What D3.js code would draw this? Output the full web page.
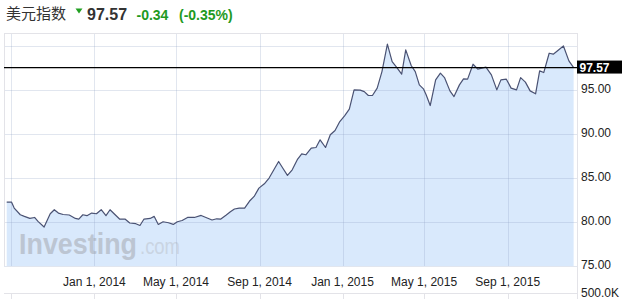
<!DOCTYPE html>
<html>
<head>
<meta charset="utf-8">
<script src="https://cdn.jsdelivr.net/npm/d3@7"></script>
<style>
body{margin:0;background:#fff;}
</style>
</head>
<body>
<script>
//DATA
var dates = ["2013-08-25","2013-09-01","2013-09-05","2013-09-14","2013-09-20","2013-09-28","2013-10-05","2013-10-10","2013-10-19","2013-10-28",
 "2013-11-03","2013-11-09","2013-11-16","2013-11-25","2013-12-04","2013-12-09","2013-12-15","2013-12-21","2013-12-28","2014-01-04",
 "2014-01-11","2014-01-18","2014-01-24","2014-01-30","2014-02-07","2014-02-15","2014-02-22","2014-03-03","2014-03-09","2014-03-15",
 "2014-03-24","2014-03-30","2014-04-05","2014-04-12","2014-04-20","2014-04-27","2014-05-03","2014-05-10","2014-05-18","2014-05-28",
 "2014-06-07","2014-06-15","2014-06-23","2014-06-30","2014-07-06","2014-07-14","2014-07-20","2014-07-26","2014-08-02","2014-08-10",
 "2014-08-17","2014-08-24","2014-08-31","2014-09-08","2014-09-15","2014-09-22","2014-09-29","2014-10-05","2014-10-12","2014-10-19",
 "2014-10-27","2014-11-02","2014-11-08","2014-11-16","2014-11-23","2014-11-29","2014-12-07","2014-12-14","2014-12-21","2014-12-28",
 "2015-01-04","2015-01-11","2015-01-18","2015-01-27","2015-02-02","2015-02-08","2015-02-14","2015-02-21","2015-02-28","2015-03-08",
 "2015-03-15","2015-03-22","2015-03-29","2015-04-04","2015-04-12","2015-04-18","2015-04-24","2015-04-30","2015-05-04","2015-05-10",
 "2015-05-18","2015-05-25","2015-05-31","2015-06-08","2015-06-14","2015-06-22","2015-06-28","2015-07-04","2015-07-12","2015-07-19",
 "2015-07-31","2015-08-08","2015-08-16","2015-08-22","2015-08-30","2015-09-06","2015-09-14","2015-09-20","2015-09-27","2015-10-04",
 "2015-10-12","2015-10-18","2015-10-24","2015-11-01","2015-11-07","2015-11-22","2015-11-30","2015-12-07"];
var values = [82.27,82.27,81.59,80.83,80.64,80.41,80.52,80.07,79.43,80.94,
 81.40,81.02,80.86,80.80,80.41,80.34,80.83,80.72,81.02,80.94,
 81.40,80.72,81.40,80.94,80.34,80.34,79.89,79.81,79.61,80.34,
 80.41,80.64,79.73,80.03,79.92,79.73,80.03,80.18,80.52,80.52,
 80.75,80.49,80.23,80.37,80.34,80.80,81.17,81.48,81.59,81.59,
 82.36,82.91,83.86,84.35,85.00,85.94,86.89,86.14,85.30,85.94,
 87.16,87.76,87.65,88.41,88.48,89.35,88.48,89.92,90.41,91.43,
 92.08,92.84,95.03,95.00,94.84,94.39,94.39,95.23,97.11,100.23,
 98.25,97.57,96.82,99.58,97.80,97.11,95.60,95.15,94.47,93.25,
 96.17,96.93,96.43,94.92,94.27,95.60,96.28,96.25,97.95,97.39,
 97.61,96.74,95.03,96.17,96.25,95.23,95.03,96.43,95.91,94.92,
 94.58,97.19,97.00,99.20,99.09,100.03,98.33,97.57];
var lastPrice = 97.57;
var yTicks = [75, 80, 85, 90, 95, 100];
var yLabels = ["75.00", "80.00", "85.00", "90.00", "95.00", ""];
var xTicks = ["2013-09-01","2014-01-01","2014-05-01","2014-09-01","2015-01-01","2015-05-01","2015-09-01"];
var xLabels = ["", "Jan 1, 2014", "May 1, 2014", "Sep 1, 2014", "Jan 1, 2015", "May 1, 2015", "Sep 1, 2015"];
var titleText = "美元指数";
var changeText = "-0.34";
var pctText = "(-0.35%)";

var parse = d3.timeParse("%Y-%m-%d");
var data = dates.map(function(d,i){ return {date: parse(d), value: values[i]}; });

//SVG STUFF
var width = 622, height = 299;
var pLeft = 4, pRight = 577, pTop = 33, pBottom = 266;
var font = "'Liberation Sans', Arial, sans-serif";

var svg = d3.select("body").append("svg")
   .attr("width", width).attr("height", height);

var x = d3.scaleTime()
   .domain([parse("2013-08-21"), parse("2015-12-09")])
   .range([pLeft, pRight - 2]);
var y = d3.scaleLinear()
   .domain([75, 101.5])
   .range([pBottom, pTop]);

//AREA + LINE
var area = d3.area()
   .x(function(d){ return x(d.date); })
   .y0(pBottom)
   .y1(function(d){ return y(d.value); });
var line = d3.line()
   .x(function(d){ return x(d.date); })
   .y(function(d){ return y(d.value); });

svg.append("path")
   .datum(data)
   .attr("d", area)
   .attr("fill", "#d9e9fc");

//watermark
svg.append("text")
   .text("Investing")
   .attr("x", 19).attr("y", 254)
   .attr("font-family", font)
   .attr("font-size", "30px")
   .attr("font-weight", "bold")
   .attr("fill", "#bcc5d2")
   .attr("textLength", 118)
   .attr("lengthAdjust", "spacingAndGlyphs");
svg.append("text")
   .text(".com")
   .attr("x", 140).attr("y", 254)
   .attr("font-family", font)
   .attr("font-size", "22px")
   .attr("fill", "#c9d4e2")
   .attr("textLength", 40)
   .attr("lengthAdjust", "spacingAndGlyphs");

//GRIDLINES
svg.selectAll("line.hgrid").data(yTicks).enter().append("line")
   .attr("class", "hgrid")
   .attr("x1", pLeft).attr("x2", pRight)
   .attr("y1", function(d){ return Math.round(y(d)) + 0.5; })
   .attr("y2", function(d){ return Math.round(y(d)) + 0.5; })
   .attr("stroke", "rgba(140,160,195,0.26)")
   .attr("stroke-width", 1);

svg.selectAll("line.vgrid").data(xTicks).enter().append("line")
   .attr("class", "vgrid")
   .attr("x1", function(d){ return Math.round(x(parse(d))) + 0.5; })
   .attr("x2", function(d){ return Math.round(x(parse(d))) + 0.5; })
   .attr("y1", pTop).attr("y2", pBottom)
   .attr("stroke", "rgba(140,160,195,0.26)")
   .attr("stroke-width", 1);

//frame
svg.append("line")
   .attr("x1", pLeft).attr("x2", pRight).attr("y1", pTop + 0.5).attr("y2", pTop + 0.5)
   .attr("stroke", "#e3e3e8");
svg.append("line")
   .attr("x1", pLeft + 0.5).attr("x2", pLeft + 0.5).attr("y1", pTop).attr("y2", pBottom)
   .attr("stroke", "#e3e3e8");
svg.append("line")
   .attr("x1", pRight + 0.5).attr("x2", pRight + 0.5).attr("y1", pTop).attr("y2", height)
   .attr("stroke", "#e3e3e8");

//volume pane top + ticks
svg.append("line")
   .attr("x1", pLeft).attr("x2", pRight).attr("y1", 293.5).attr("y2", 293.5)
   .attr("stroke", "#e3e3e8");
svg.selectAll("line.vtick").data(xTicks).enter().append("line")
   .attr("class", "vtick")
   .attr("x1", function(d){ return Math.round(x(parse(d))) + 0.5; })
   .attr("x2", function(d){ return Math.round(x(parse(d))) + 0.5; })
   .attr("y1", 293).attr("y2", height)
   .attr("stroke", "#e3e3e8");

svg.append("path")
   .datum(data)
   .attr("d", line)
   .attr("fill", "none")
   .attr("stroke", "#4a5273")
   .attr("stroke-width", 1.2)
   .attr("stroke-linejoin", "round");

//last price line
svg.append("line")
   .attr("x1", pLeft).attr("x2", pRight)
   .attr("y1", y(lastPrice)).attr("y2", y(lastPrice))
   .attr("stroke", "black")
   .attr("stroke-width", 1.2);

//AXIS LABELS
svg.selectAll("text.ylab").data(yTicks).enter().append("text")
   .attr("class", "ylab")
   .text(function(d,i){ return yLabels[i]; })
   .attr("x", 581)
   .attr("y", function(d){ return y(d) + 3; })
   .attr("font-family", font)
   .attr("font-size", "12px")
   .attr("fill", "#222");

svg.append("text")
   .text("500.0K")
   .attr("x", 581).attr("y", 297)
   .attr("font-family", font)
   .attr("font-size", "12px")
   .attr("fill", "#222");

svg.selectAll("text.xlab").data(xTicks).enter().append("text")
   .attr("class", "xlab")
   .text(function(d,i){ return xLabels[i]; })
   .attr("x", function(d){ return x(parse(d)); })
   .attr("y", 286)
   .attr("text-anchor", "middle")
   .attr("font-family", font)
   .attr("font-size", "12px")
   .attr("fill", "#222");

//price tag
svg.append("rect")
   .attr("x", pRight).attr("y", y(lastPrice) - 7)
   .attr("width", width - pRight).attr("height", 13)
   .attr("fill", "black");
svg.append("text")
   .text(lastPrice.toFixed(2))
   .attr("x", 579.5).attr("y", y(lastPrice) + 4.5)
   .attr("font-family", font)
   .attr("font-size", "12px")
   .attr("font-weight", "bold")
   .attr("fill", "white");

//HEADER
svg.append("text")
   .text(titleText)
   .attr("x", 6).attr("y", 19)
   .attr("font-family", "'Noto Sans CJK SC', sans-serif")
   .attr("font-size", "15px")
   .attr("fill", "#333");
svg.append("path")
   .attr("d", "M75.5,8.5 L82.5,8.5 L79,13.5 Z")
   .attr("fill", "#22a022");
svg.append("text")
   .text(lastPrice.toFixed(2))
   .attr("x", 87).attr("y", 20)
   .attr("font-family", font)
   .attr("font-size", "16px")
   .attr("font-weight", "bold")
   .attr("fill", "#333");
svg.append("text")
   .text(changeText)
   .attr("x", 136.5).attr("y", 20)
   .attr("font-family", font)
   .attr("font-size", "14px")
   .attr("font-weight", "bold")
   .attr("fill", "#1f9a1f");
svg.append("text")
   .text(pctText)
   .attr("x", 179).attr("y", 20)
   .attr("font-family", font)
   .attr("font-size", "14px")
   .attr("font-weight", "bold")
   .attr("fill", "#1f9a1f");
</script>
</body>
</html>
